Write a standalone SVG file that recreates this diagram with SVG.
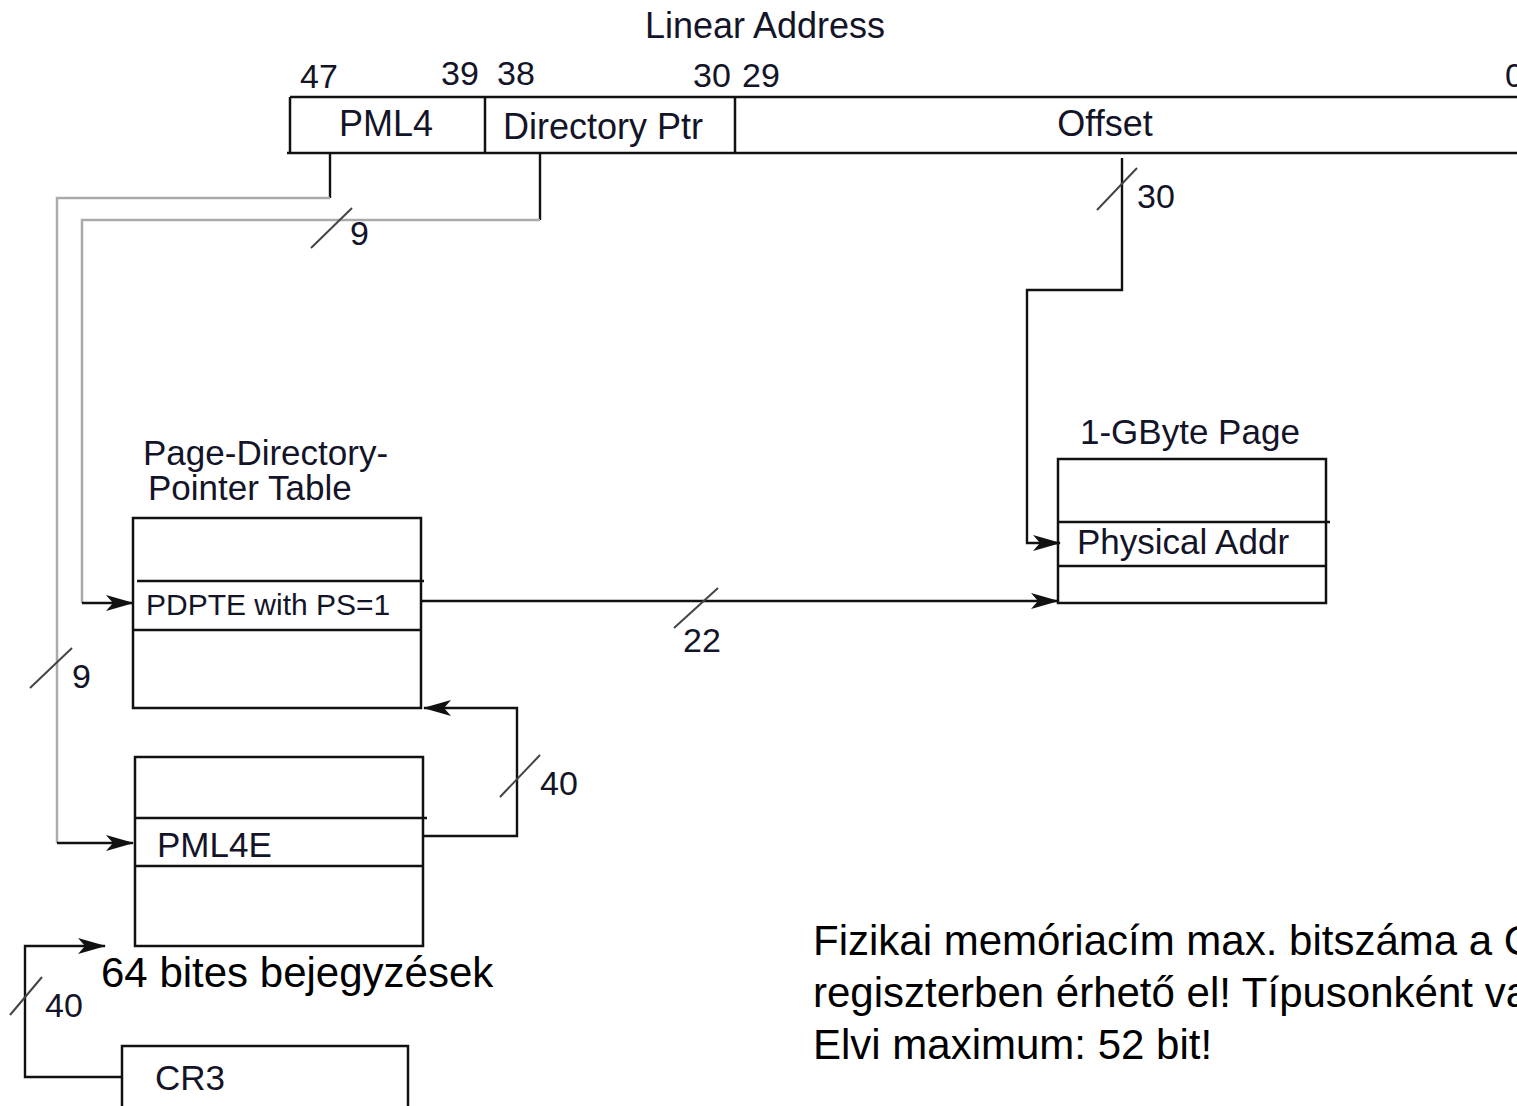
<svg xmlns="http://www.w3.org/2000/svg" width="1517" height="1106" viewBox="0 0 1517 1106">
<style>
.t{font-family:"Liberation Sans",Arial,sans-serif;fill:#141428}
.b{fill:none;stroke:#111;stroke-width:2.5}
.c{fill:none;stroke:#111;stroke-width:2.4}
.g{fill:none;stroke:#aaa;stroke-width:2.5}
.s{stroke:#444;stroke-width:2}
.k{font-family:"Liberation Sans",Arial,sans-serif;fill:#000}
</style>
<defs>
<marker id="ah" markerWidth="28" markerHeight="16" refX="27" refY="8" orient="auto" markerUnits="userSpaceOnUse">
<path d="M0,0 L28,8 L0,16 L7,8 z" fill="#111"/>
</marker>
</defs>
<rect width="1517" height="1106" fill="#fff"/>

<g id="linear-address">
<text class="t" x="765" y="38" font-size="36" text-anchor="middle">Linear Address</text>
<text class="t" x="300" y="88" font-size="34">47</text>
<text class="t" x="441" y="85" font-size="34">39</text>
<text class="t" x="497" y="85" font-size="34">38</text>
<text class="t" x="693" y="87" font-size="34">30</text>
<text class="t" x="742" y="87" font-size="34">29</text>
<text class="t" x="1505" y="87" font-size="34">0</text>
<path class="b" d="M290,97 H1517 M287,153 H1517 M290,97 V153 M485,97 V153 M735,97 V153"/>
<text class="t" x="386" y="136" font-size="36" text-anchor="middle">PML4</text>
<text class="t" x="503" y="139" font-size="36">Directory Ptr</text>
<text class="t" x="1105" y="136" font-size="36" text-anchor="middle">Offset</text>
</g>

<g id="pdpt">
<text class="t" x="143" y="465" font-size="35">Page-Directory-</text>
<text class="t" x="148" y="500" font-size="35">Pointer Table</text>
<rect class="b" x="133" y="518" width="288" height="190"/>
<path class="b" d="M137,581 H424 M133,630 H421"/>
<text class="t" x="146" y="615" font-size="30">PDPTE with PS=1</text>
</g>

<g id="pml4-table">
<rect class="b" x="135" y="757" width="288" height="189"/>
<path class="b" d="M135,818 H427 M135,866 H423"/>
<text class="t" x="157" y="857" font-size="35">PML4E</text>
</g>

<g id="cr3">
<path class="b" d="M122,1110 V1046 H408 V1110"/>
<text class="t" x="155" y="1090" font-size="35">CR3</text>
</g>

<g id="page">
<text class="t" x="1080" y="444" font-size="35">1-GByte Page</text>
<rect class="b" x="1058" y="459" width="268" height="144"/>
<path class="b" d="M1058,522 H1330 M1058,566 H1326"/>
<text class="t" x="1077" y="554" font-size="35">Physical Addr</text>
</g>

<g id="connectors">
<path class="c" d="M330,153 V198"/>
<path class="g" d="M330,198 H57 V843"/>
<path class="c" d="M57,843 H133" marker-end="url(#ah)"/>
<path class="c" d="M540,153 V220"/>
<path class="g" d="M540,220 H82 V603"/>
<path class="c" d="M82,603 H133" marker-end="url(#ah)"/>
<path class="c" d="M1122,158 V290 H1027 V543 H1060" marker-end="url(#ah)"/>
<path class="c" d="M421,601 H1058" marker-end="url(#ah)"/>
<path class="c" d="M423,836 H517 V708 H424" marker-end="url(#ah)"/>
<path class="c" d="M122,1077 H25 V946 H105" marker-end="url(#ah)"/>
<line class="s" x1="311" y1="248" x2="352" y2="208"/>
<line class="s" x1="30" y1="688" x2="72" y2="648"/>
<line class="s" x1="1097" y1="210" x2="1137" y2="168"/>
<line class="s" x1="674" y1="628" x2="718" y2="588"/>
<line class="s" x1="500" y1="797" x2="540" y2="755"/>
<line class="s" x1="10" y1="1015" x2="42" y2="977"/>
<text class="t" x="350" y="245" font-size="34">9</text>
<text class="t" x="72" y="688" font-size="34">9</text>
<text class="t" x="1137" y="208" font-size="34">30</text>
<text class="t" x="683" y="652" font-size="34">22</text>
<text class="t" x="540" y="795" font-size="34">40</text>
<text class="t" x="45" y="1017" font-size="34">40</text>
</g>

<g id="notes">
<text class="k" x="101" y="987" font-size="42">64 bites bejegyzések</text>
<text class="k" x="813" y="955" font-size="42">Fizikai memóriacím max. bitszáma a C</text>
<text class="k" x="813" y="1007" font-size="42">regiszterben érhető el! Típusonként va</text>
<text class="k" x="813" y="1059" font-size="42">Elvi maximum: 52 bit!</text>
</g>
</svg>
